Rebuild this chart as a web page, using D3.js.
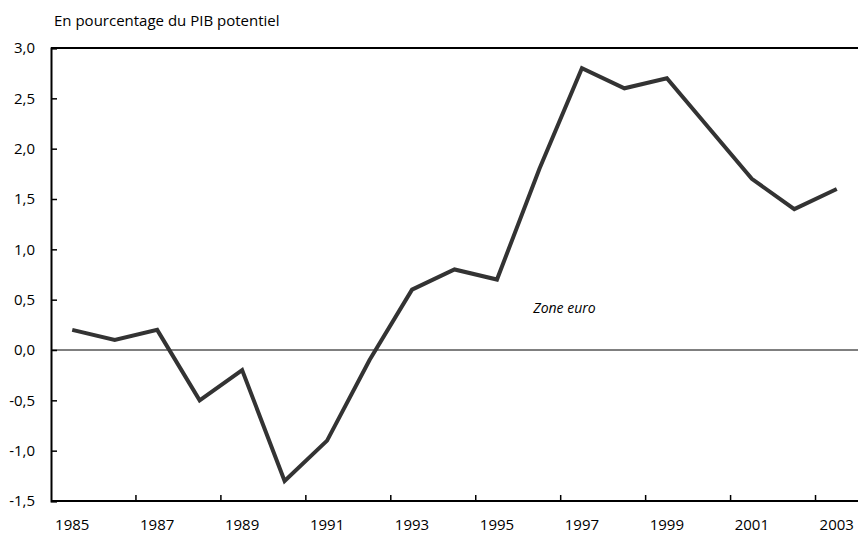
<!DOCTYPE html>
<html>
<head>
<meta charset="utf-8">
<script src="https://cdn.jsdelivr.net/npm/d3@7"></script>
<style>
  html, body { margin: 0; padding: 0; background: #fff; overflow: hidden; }
  svg { display: block; }
</style>
</head>
<body>
<script>
// years and values
const years = d3.range(1985, 2004);
const values = [0.2, 0.1, 0.2, -0.5, -0.2, -1.3, -0.9, -0.1, 0.6, 0.8, 0.7, 1.8, 2.8, 2.6, 2.7, 2.2, 1.7, 1.4, 1.6];
const yTicks = [-1.5, -1.0, -0.5, 0, 0.5, 1.0, 1.5, 2.0, 2.5, 3.0];
const xLabels = [1985, 1987, 1989, 1991, 1993, 1995, 1997, 1999, 2001, 2003];

const width = 858, height = 536;
const margin = { top: 48, right: 0, bottom: 35, left: 51 };
const font = "'Open Sans', Lato, sans-serif";

const data = years.map((y, i) => ({ year: y, value: values[i] }));

const svg = d3.select('body').append('svg')
    .attr('width', width)
    .attr('height', height);

const innerWidth = width - margin.left - margin.right;
const innerHeight = height - margin.top - margin.bottom;
const g = svg.append('g').attr('transform', `translate(${margin.left},${margin.top})`);

const xScale = d3.scaleBand()
    .domain(years)
    .range([0, innerWidth]);

const yScale = d3.scaleLinear()
    .domain([-1.5, 3.0])
    .range([innerHeight, 0]);

const fmt = d => d3.format('.1f')(d).replace('.', ',').replace('−', '-');

// top border
g.append('line')
    .attr('x1', 0).attr('x2', innerWidth)
    .attr('y1', 0).attr('y2', 0)
    .attr('stroke', '#000').attr('stroke-width', 2);

// zero line
g.append('line')
    .attr('x1', 0).attr('x2', innerWidth)
    .attr('y1', yScale(0)).attr('y2', yScale(0))
    .attr('stroke', '#000').attr('stroke-width', 1);

// y axis
const yAxis = g.append('g')
    .call(d3.axisLeft(yScale).tickValues(yTicks).tickSize(-6).tickPadding(16).tickFormat(fmt));
yAxis.select('.domain').attr('stroke-width', 2);
yAxis.selectAll('.tick line').attr('stroke-width', 1.5);
yAxis.selectAll('text')
    .attr('font-family', font)
    .attr('font-size', 15)
    .attr('fill', '#000');

// x axis: ticks between every pair of years, labels on every other year
const xAxisG = g.append('g').attr('transform', `translate(0,${innerHeight})`);
xAxisG.append('line')
    .attr('x1', 0).attr('x2', innerWidth)
    .attr('stroke', '#000').attr('stroke-width', 2);
const tickYears = years.filter((y, i) => i % 2 === 0 && i > 0);
xAxisG.selectAll('.xtick')
    .data(tickYears)
    .enter().append('line')
    .attr('class', 'xtick')
    .attr('x1', d => xScale(d)).attr('x2', d => xScale(d))
    .attr('y1', 0).attr('y2', -6)
    .attr('stroke', '#000').attr('stroke-width', 1.5);
xAxisG.selectAll('.xlabel')
    .data(xLabels)
    .enter().append('text')
    .attr('class', 'xlabel')
    .attr('x', d => xScale(d) + xScale.bandwidth() / 2)
    .attr('y', 29)
    .attr('text-anchor', 'middle')
    .attr('font-family', font)
    .attr('font-size', 15)
    .text(d => d);

// the series
const line = d3.line()
    .x(d => xScale(d.year) + xScale.bandwidth() / 2)
    .y(d => yScale(d.value));

g.append('path')
    .datum(data)
    .attr('fill', 'none')
    .attr('stroke', '#333')
    .attr('stroke-width', 4)
    .attr('stroke-linejoin', 'miter')
    .attr('d', line);

// unit title
svg.append('text')
    .attr('x', 54)
    .attr('y', 26)
    .attr('font-family', font)
    .attr('font-size', 15)
    .text('En pourcentage du PIB potentiel');

// series label
g.append('text')
    .attr('x', xScale(1996) + xScale.bandwidth() / 2 + 25)
    .attr('y', yScale(0.37))
    .attr('text-anchor', 'middle')
    .attr('font-family', font)
    .attr('font-style', 'italic')
    .attr('font-size', 14)
    .text('Zone euro');
</script>
</body>
</html>
